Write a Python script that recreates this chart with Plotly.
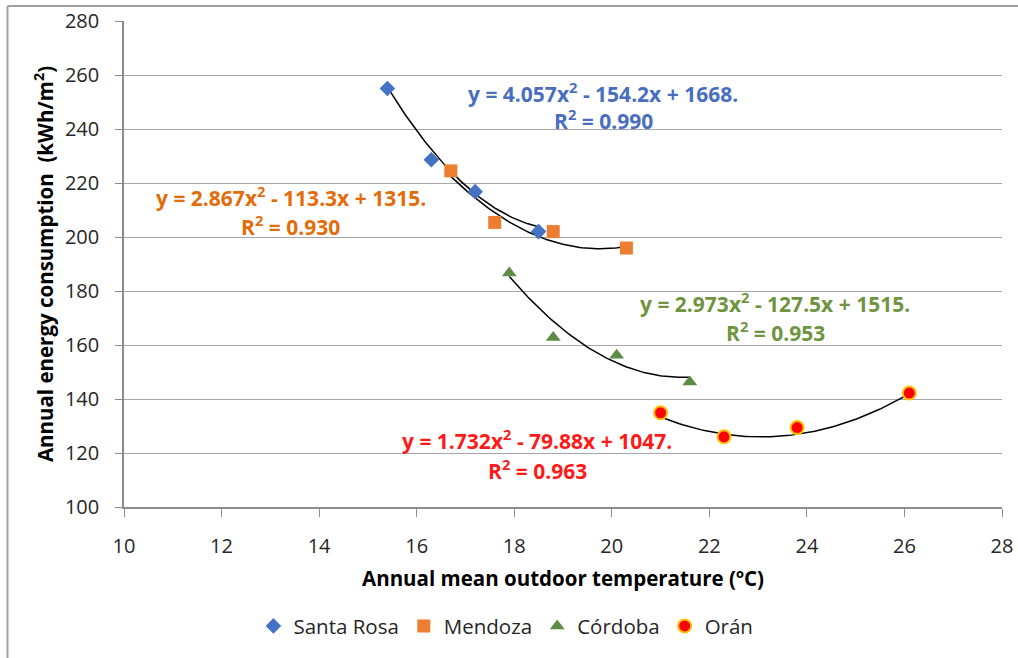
import numpy as np
import plotly.graph_objects as go

# ---------------- data ----------------
santa_rosa_x = [15.4, 16.3, 17.2, 18.5]
santa_rosa_y = [255.0, 228.6, 216.8, 202.0]
mendoza_x = [16.7, 17.6, 18.8, 20.3]
mendoza_y = [224.5, 205.4, 202.0, 195.9]
cordoba_x = [17.9, 18.8, 20.1, 21.6]
cordoba_y = [186.7, 162.8, 156.2, 146.3]
oran_x = [21.0, 22.3, 23.8, 26.1]
oran_y = [134.9, 126.0, 129.4, 142.2]

# trendline coefficients as displayed (a, b, c) for y = a x^2 + b x + c
santa_rosa_fit = [4.057, -154.2, 1668.0]
mendoza_fit = [2.867, -113.3, 1315.0]
cordoba_fit = [2.973, -127.5, 1515.0]
oran_fit = [1.732, -79.88, 1047.0]

santa_rosa_eq = ["y = 4.057x<sup>2</sup> - 154.2x + 1668.", "R<sup>2</sup> = 0.990"]
mendoza_eq = ["y = 2.867x<sup>2</sup> - 113.3x + 1315.", "R<sup>2</sup> = 0.930"]
cordoba_eq = ["y = 2.973x<sup>2</sup> - 127.5x + 1515.", "R<sup>2</sup> = 0.953"]
oran_eq = ["y = 1.732x<sup>2</sup> - 79.88x + 1047.", "R<sup>2</sup> = 0.963"]

x_ticks = [10, 12, 14, 16, 18, 20, 22, 24, 26, 28]
y_ticks = [100, 120, 140, 160, 180, 200, 220, 240, 260, 280]

FONT = "Open Sans"
fig = go.Figure()

series = [
    ("Santa Rosa", santa_rosa_x, santa_rosa_y, santa_rosa_fit,
     dict(symbol="diamond", size=12, color="#4472C4")),
    ("Mendoza", mendoza_x, mendoza_y, mendoza_fit,
     dict(symbol="square", size=13, color="#ED7D31")),
    ("Córdoba", cordoba_x, cordoba_y, cordoba_fit,
     dict(symbol="triangle-up", size=13, color="#5E8C45")),
    ("Orán", oran_x, oran_y, oran_fit,
     dict(symbol="circle", size=13, color="#FF0000",
          line=dict(color="#FFC000", width=2))),
]

# trendlines first (drawn beneath markers)
for name, xs, ys, fit, mk in series:
    xt = np.linspace(min(xs), max(xs), 80)
    yt = np.polyval(fit, xt)
    fig.add_trace(go.Scatter(x=xt, y=yt, mode="lines",
                             line=dict(color="#000000", width=1.5),
                             showlegend=False, hoverinfo="skip"))

for name, xs, ys, fit, mk in series:
    fig.add_trace(go.Scatter(x=xs, y=ys, mode="markers", name=name, marker=mk))

# convert pixel rows to data y
def py(pix):
    return 280 - (pix - 21) / 490 * 180

eqs = [
    (santa_rosa_eq, 19.82, 93, 120, "#4A6EBF"),
    (mendoza_eq, 13.42, 198, 227, "#E36C09"),
    (cordoba_eq, 23.35, 305, 334, "#6F9440"),
    (oran_eq, 18.47, 443, 473, "#FF1A1A"),
]
for lines, xc, y1, y2, col in eqs:
    for txt, yp in zip(lines, (y1, y2)):
        fig.add_annotation(x=xc, y=py(yp), text="<b>" + txt + "</b>",
                           showarrow=False, xanchor="center", yanchor="middle",
                           font=dict(family=FONT, size=21, color=col))

fig.update_layout(
    width=1018, height=658,
    margin=dict(l=124, r=16, t=21, b=147),
    paper_bgcolor="white", plot_bgcolor="white",
    font=dict(family=FONT, color="#262626"),
    showlegend=True,
    legend=dict(orientation="h", x=0.435, xanchor="center", y=-0.245, yanchor="middle",
                font=dict(family=FONT, size=20.5, color="#262626"),
                itemwidth=30, tracegroupgap=0),
    xaxis=dict(range=[10, 28], tickvals=x_ticks, ticks="outside", ticklen=8,
               tickcolor="#8C8C8C", showline=True, linecolor="#8C8C8C", linewidth=1.5,
               showgrid=False, zeroline=False, automargin=False, ticklabelstandoff=12,
               tickfont=dict(family=FONT, size=20, color="#262626"),
               title=dict(text="<b>Annual mean outdoor temperature (ºC)</b>",
                          font=dict(family=FONT, size=20.5, color="#000000"), standoff=14)),
    yaxis=dict(range=[100, 280], tickvals=y_ticks, ticks="outside", ticklen=7,
               tickcolor="#8C8C8C", showline=True, linecolor="#8C8C8C", linewidth=1.5,
               showgrid=True, gridcolor="#A6A6A6", gridwidth=1.3, zeroline=False,
               automargin=False, ticklabelstandoff=12,
               tickfont=dict(family=FONT, size=20, color="#262626"),
               title=dict(text="<b>Annual energy consumption  (kWh/m<sup>2</sup>)</b>",
                          font=dict(family=FONT, size=20.5, color="#000000"), standoff=6)),
)

# outer chart border: left and top edges
fig.add_shape(type="line", xref="paper", yref="paper",
              x0=(7.5 - 124) / 878, x1=(7.5 - 124) / 878,
              y0=1 - (680 - 21) / 490, y1=1 + (21 - 6) / 490,
              line=dict(color="#A0A0A0", width=2))
fig.add_shape(type="line", xref="paper", yref="paper",
              x0=(7.5 - 124) / 878, x1=(1018 - 124) / 878,
              y0=1 + (21 - 6) / 490, y1=1 + (21 - 6) / 490,
              line=dict(color="#A0A0A0", width=2))

fig.write_html("out.html", config={"displayModeBar": False},
               post_script="document.body.style.margin='0';document.body.style.padding='0';")
